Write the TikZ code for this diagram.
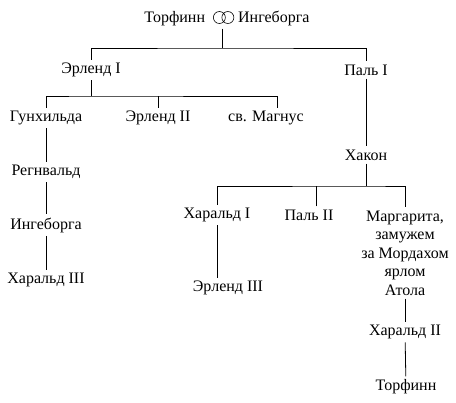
\documentclass[tikz,border=0pt]{standalone}
\usepackage{fontspec}
\setmainfont{Liberation Serif}
\usetikzlibrary{positioning}
\tikzset{person/.style={inner sep=3pt, font=\fontsize{16}{18.5}\selectfont, align=center}}
\newcommand\rings{\tikz[baseline=-4.5pt,x=1pt,y=1pt,line width=0.6pt]{\draw (0,0) circle (6) (8.5,0) circle (6);}}

\begin{document}
\begin{tikzpicture}[x=1pt,y=-1pt,line width=0.8pt]
\useasboundingbox (0,0) rectangle (456,403);

\node[person] (1) at(227,18){Торфинн\ \ \rings\ Ингеборга};
\node[person] (2) at(91,70){Эрленд I};
\node[person] (3) at(366,70){Паль I};
\node[person] (4) at(46,118){Гунхильда};
\node[person] (5) at(158,118){Эрленд II};
\node[person] (6) at(266,118){св. Магнус};
\node[person] (7) at(46,172){Регнвальд};
\node[person] (8) at(46,225){Ингеборга};
\node[person] (9) at(46,280){Харальд III};
\node[person] (10) at(366,155){Хакон};
\node[person] (11) at(217,215){Харальд I};
\node[person] (12) at(309,215){Паль II};
\node[person] (13) at(405,253){Маргарита,\\замужем\\за Мордахом\\ярлом\\Атола};
\node[person] (14) at(228,288){Эрленд III};
\node[person] (15) at(405,332){Харальд II};
\node[person] (16) at(406,387){Торфинн};

\coordinate (b1) at(222,48);
\coordinate (b2) at(91,96);
\coordinate (b3) at(366,186);

\draw (1.south -| b1) -- (b1);
\draw (2) |- (b1) -| (3);
\draw (2) -- (b2);
\draw (4) |- (b2) -| ([xshift=11pt]6.north);
\draw (5) -- (5 |- b2);
\draw (4) -- (7);
\draw (7) -- (8);
\draw (8) -- (9);
\draw (3) -- (10);
\draw (10) -- (b3);
\draw (11) |- (b3) -| (13);
\draw ([xshift=7pt]12.north) -- ([xshift=7pt]12.north |- b3);
\draw (11) -- (11 |- 14.north);
\draw (13) -- (15);
\draw (15) -- (16);

\end{tikzpicture}
\end{document}
